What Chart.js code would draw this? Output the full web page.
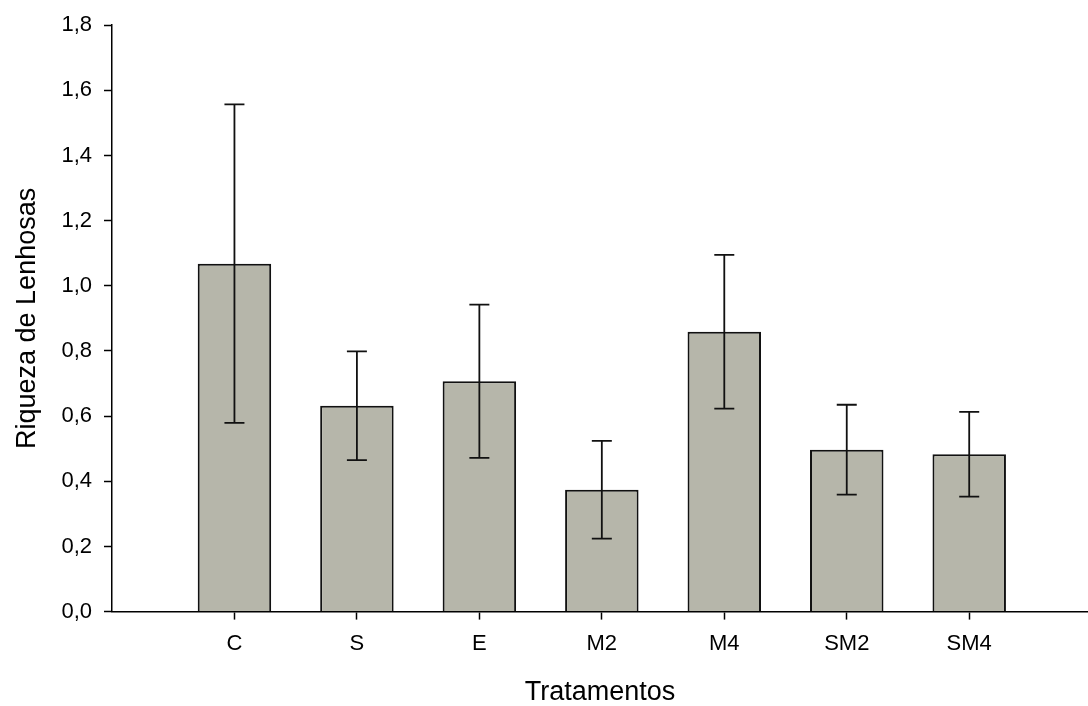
<!DOCTYPE html>
<html>
<head>
<meta charset="utf-8">
<script src="https://cdn.jsdelivr.net/npm/chart.js@4/dist/chart.umd.min.js"></script>
<style>
  html, body { margin: 0; padding: 0; background: #fff; }
  #wrap { width: 1088px; height: 706px; }
</style>
</head>
<body>
<div id="wrap"><canvas id="chart"></canvas></div>
<script>
// tratamentos e valores
const tratamentos = ['C', 'S', 'E', 'M2', 'M4', 'SM2', 'SM4'];
const medias = [1.068, 0.632, 0.707, 0.374, 0.859, 0.497, 0.483];
const erros = [0.489, 0.167, 0.235, 0.150, 0.236, 0.138, 0.130];
const yTicks = [0, 0.2, 0.4, 0.6, 0.8, 1.0, 1.2, 1.4, 1.6, 1.8];

const posicoes = tratamentos.map((t, i) => i + 1);

// barras de erro desenhadas depois das barras
const errorBars = {
  id: 'errorBars',
  afterDatasetsDraw(chart) {
    const ctx = chart.ctx;
    const x = chart.scales.x;
    const y = chart.scales.y;
    ctx.save();
    ctx.strokeStyle = '#111';
    ctx.lineWidth = 1.8;
    medias.forEach((m, i) => {
      const px = x.getPixelForValue(posicoes[i]);
      const top = y.getPixelForValue(m + erros[i]);
      const bot = y.getPixelForValue(m - erros[i]);
      ctx.beginPath();
      ctx.moveTo(px, top);
      ctx.lineTo(px, bot);
      ctx.moveTo(px - 10, top);
      ctx.lineTo(px + 10, top);
      ctx.moveTo(px - 10, bot);
      ctx.lineTo(px + 10, bot);
      ctx.stroke();
    });
    ctx.restore();
  }
};

const fonte = "'Liberation Sans', Arial, sans-serif";

new Chart(document.getElementById('chart'), {
  type: 'bar',
  data: {
    datasets: [{
      data: posicoes.map((p, i) => ({ x: p, y: medias[i] })),
      backgroundColor: '#b6b6aa',
      borderColor: '#111',
      borderWidth: 2,
      barPercentage: 0.6,
      categoryPercentage: 1.0
    }]
  },
  options: {
    responsive: true,
    maintainAspectRatio: false,
    animation: false,
    layout: { padding: { top: 3, right: 0, bottom: 0, left: 11 } },
    plugins: {
      legend: { display: false },
      tooltip: { enabled: false }
    },
    scales: {
      x: {
        type: 'linear',
        offset: false,
        min: 0,
        max: 7.97,
        afterBuildTicks(scale) {
          scale.ticks = posicoes.map(v => ({ value: v }));
        },
        ticks: {
          color: '#000',
          font: { family: fonte, size: 22 },
          padding: 11,
          maxRotation: 0,
          callback: (v) => tratamentos[v - 1] || ''
        },
        grid: {
          display: true,
          offset: false,
          drawOnChartArea: false,
          drawTicks: true,
          tickLength: 8,
          tickColor: '#000',
          tickWidth: 1.5
        },
        border: { display: true, color: '#000', width: 1.5 },
        title: {
          display: true,
          text: 'Tratamentos',
          color: '#000',
          font: { family: fonte, size: 27, lineHeight: 1.0 },
          padding: { top: 11, bottom: 0 }
        }
      },
      y: {
        min: 0,
        max: 1.8,
        afterBuildTicks(scale) {
          scale.ticks = yTicks.map(v => ({ value: v }));
        },
        ticks: {
          color: '#000',
          font: { family: fonte, size: 22 },
          padding: 12,
          callback: (v) => v.toFixed(1).replace('.', ',')
        },
        grid: {
          display: true,
          drawOnChartArea: false,
          drawTicks: true,
          tickLength: 8,
          tickColor: '#000',
          tickWidth: 1.5
        },
        border: { display: true, color: '#000', width: 1.5 },
        title: {
          display: true,
          text: 'Riqueza de Lenhosas',
          color: '#000',
          font: { family: fonte, size: 27 },
          padding: { top: 0, bottom: 6 }
        }
      }
    }
  },
  plugins: [errorBars]
});
</script>
</body>
</html>
